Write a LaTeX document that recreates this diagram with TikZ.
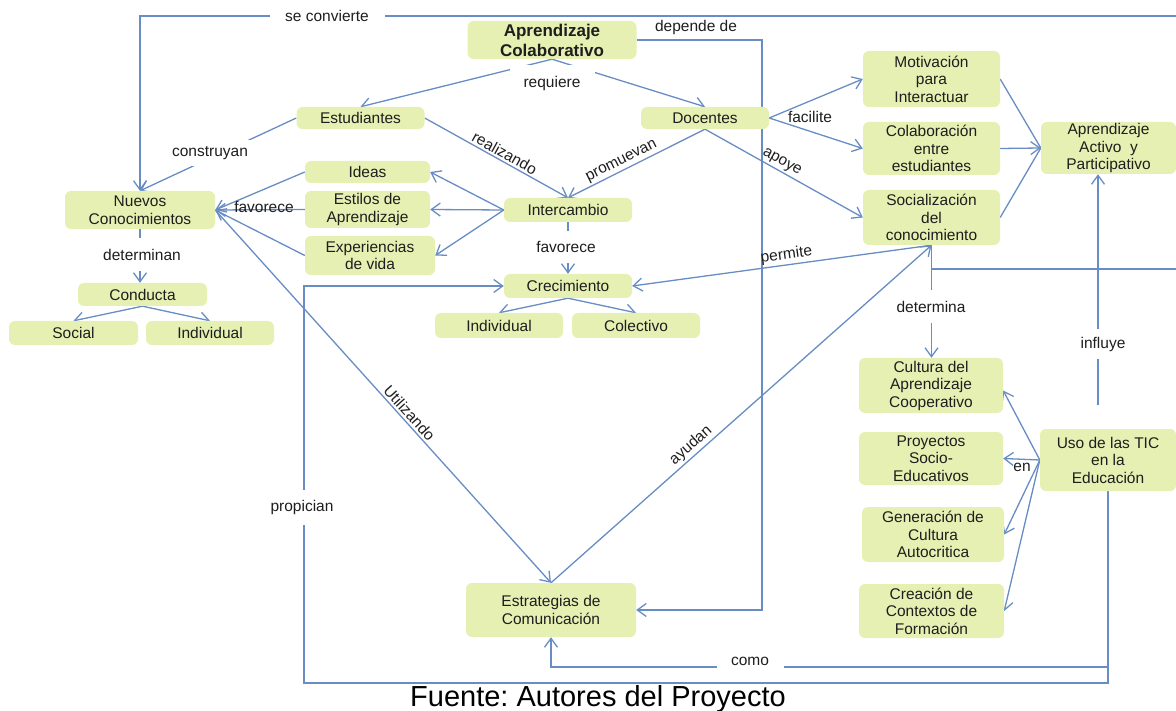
\documentclass[tikz,border=0pt]{standalone}
\usepackage{fontspec}
\setmainfont{Liberation Sans}
\usetikzlibrary{arrows.meta}
\definecolor{lnc}{RGB}{104,140,196}
\definecolor{boxc}{RGB}{229,240,178}
\definecolor{txc}{RGB}{30,30,30}
\pgfdeclarelayer{bg}
\pgfsetlayers{bg,main}
\frenchspacing
\begin{document}
\begin{tikzpicture}[x=1pt,y=-1pt,
  concept/.style={fill=boxc, rounded corners=6pt, align=center, inner sep=0pt, text=txc,
    font=\fontsize{15.5}{17.5}\selectfont},
  sz/.style 2 args={minimum width=#1pt, minimum height=#2pt},
  lbl/.style={text=txc, font=\fontsize{15.5}{17.5}\selectfont, inner sep=2pt},
  cut/.style={lbl, fill=white},
  conn/.style={draw=lnc, line width=1.3pt},
  arr/.style={conn, -{Straight Barb[length=9pt,width=13pt]}}]
\useasboundingbox (0,0) rectangle (1176,711);
\clip (0,0) rectangle (1176,711);

% concepts
\node[concept, sz={169}{38}, font=\bfseries\fontsize{17}{20}\selectfont] (ac) at (552,40) {Aprendizaje\\Colaborativo};
\node[concept, sz={128}{22}] (stu) at (360.5,118) {Estudiantes};
\node[concept, sz={128}{22}] (doc) at (705,118) {Docentes};
\node[concept, sz={137}{56}] (mot) at (931.5,79) {Motivación\\para\\Interactuar};
\node[concept, sz={137}{53}] (col) at (931.5,148.5) {Colaboración\\entre\\estudiantes};
\node[concept, sz={137}{55}] (soc) at (931.5,217.5) {Socialización\\del\\conocimiento};
\node[concept, sz={135}{52}] (aap) at (1108.5,148) {Aprendizaje\\Activo\ \ y\\Participativo};
\node[concept, sz={150}{38}] (nc) at (140,210) {Nuevos\\Conocimientos};
\node[concept, sz={125}{22}] (ideas) at (367.5,172) {Ideas};
\node[concept, sz={125}{37}] (esti) at (367.5,209.5) {Estilos de\\Aprendizaje};
\node[concept, sz={130}{39}] (expv) at (370,255.5) {Experiencias\\de vida};
\node[concept, sz={128}{24}] (inter) at (568,210) {Intercambio};
\node[concept, sz={128}{24}] (crec) at (568,286) {Crecimiento};
\node[concept, sz={128}{25}] (indc) at (499,325.5) {Individual};
\node[concept, sz={128}{25}] (cole) at (636,325.5) {Colectivo};
\node[concept, sz={129}{23}] (cond) at (142.5,294.5) {Conducta};
\node[concept, sz={129}{24}] (socl) at (73.5,333) {Social};
\node[concept, sz={128}{24}] (indv) at (210,333) {Individual};
\node[concept, sz={144}{55}] (cult) at (931,385.5) {Cultura del\\Aprendizaje\\Cooperativo};
\node[concept, sz={144}{53}] (proy) at (931,458.5) {Proyectos\\Socio-\\Educativos};
\node[concept, sz={142}{55}] (gene) at (933,534.5) {Generación de\\Cultura\\Autocritica};
\node[concept, sz={145}{54}] (ctx) at (931.5,611) {Creación de\\Contextos de\\Formación};
\node[concept, sz={136}{62}] (uso) at (1108,460) {Uso de las TIC\\en la\\Educación};
\node[concept, sz={170}{54}] (estr) at (551,610) {Estrategias de\\Comunicación};
\coordinate (inf) at (1098,405);

% connectors
\begin{pgfonlayer}{bg}
\draw[arr] (ac.south) -- (stu.north);
\draw[arr] (ac.south) -- (doc.north);
\draw[arr] (ac.east) -| (762,610) -- (estr.east);
\draw[arr] (soc.south) |- (1190,269) |- (140,16) -- (nc.north);
\draw[arr] (stu.west) -- (nc.north);
\draw[arr] (stu.east) -- node[lbl, sloped, above, pos=0.53] (lreal) {realizando} (inter.north);
\draw[arr] (doc.south) -- node[lbl, sloped, above, pos=0.58] (lprom) {promuevan} (inter.north);
\draw[arr] (doc.south) -- node[lbl, sloped, above, pos=0.46] (lapo) {apoye} (soc.west);
\draw[arr] (doc.east) -- (mot.west);
\draw[arr] (doc.east) -- (col.west);
\draw[conn] (mot.east) -- (aap.west);
\draw[arr] (col.east) -- (aap.west);
\draw[conn] (soc.east) -- (aap.west);
\draw[arr] (inter.west) -- (ideas.east);
\draw[arr] (inter.west) -- (esti.east);
\draw[arr] (inter.west) -- (expv.east);
\draw[arr] (ideas.west) -- (nc.east);
\draw[arr] (esti.west) -- (nc.east);
\draw[arr] (expv.west) -- (nc.east);
\draw[arr] (nc.south) -- (nc.south |- cond.north);
\draw[arr] (cond.south) -- (socl.north);
\draw[arr] (cond.south) -- (indv.north);
\draw[arr] (inter.south) -- (crec.north);
\draw[arr] (crec.south) -- (indc.north);
\draw[arr] (crec.south) -- (cole.north);
\draw[arr] (soc.south) -- node[lbl, sloped, above, pos=0.48] (lperm) {permite} (crec.east);
\draw[arr] (estr.north) -- node[lbl, sloped, above, pos=0.385] (layu) {ayudan} (soc.south);
\draw[arr] (nc.east) -- node[lbl, sloped, above, pos=0.56] (lutil) {Utilizando} (estr.north);
\draw[arr] (soc.south) -- (soc.south |- cult.north);
\draw[arr] (inf) -- (inf |- aap.south);
\draw[arr] (uso.west) -- (cult.-4);
\draw[arr] (uso.west) -- (proy.east);
\draw[arr] (uso.west) -- (gene.east);
\draw[arr] (uso.west) -- (ctx.east);
\draw[arr] (uso.south) -- (1108,667) -| (estr.south);
\draw[arr] (uso.south) -- (1108,683) -| (304,286) -- (crec.west);
\end{pgfonlayer}

% linking phrases
\node[cut, minimum width=115pt, minimum height=20pt] (lsec) at (327,16) {se convierte};
\node[cut, minimum width=85pt, minimum height=36pt] (lreq) at (552,83) {requiere};
\node[lbl] (ldep) at (696,27) {depende de};
\node[cut, minimum width=95pt, minimum height=26pt] (lcons) at (210,153) {construyan};
\node[lbl] (lfav1) at (264,207) {favorece};
\node[lbl] (lfac) at (810,117) {facilite};
\node[cut, minimum height=32pt] (lfav2) at (566,247) {favorece};
\node[cut, minimum height=33pt] (ldetn) at (142,255) {determinan};
\node[cut, minimum height=33pt] (ldet) at (931,307) {determina};
\node[cut, minimum height=30pt] (linf) at (1103,344) {influye};
\node[lbl] (len) at (1022,467) {en};
\node[cut, minimum height=35pt] (lprop) at (302,507) {propician};
\node[cut, minimum width=67pt, minimum height=22pt] (lcomo) at (750,661) {como};

% caption
\node[font=\fontsize{29}{34}\selectfont, text=black, anchor=base, inner sep=0pt] (fuente) at (598,706) {Fuente: Autores del Proyecto};
\end{tikzpicture}
\end{document}
